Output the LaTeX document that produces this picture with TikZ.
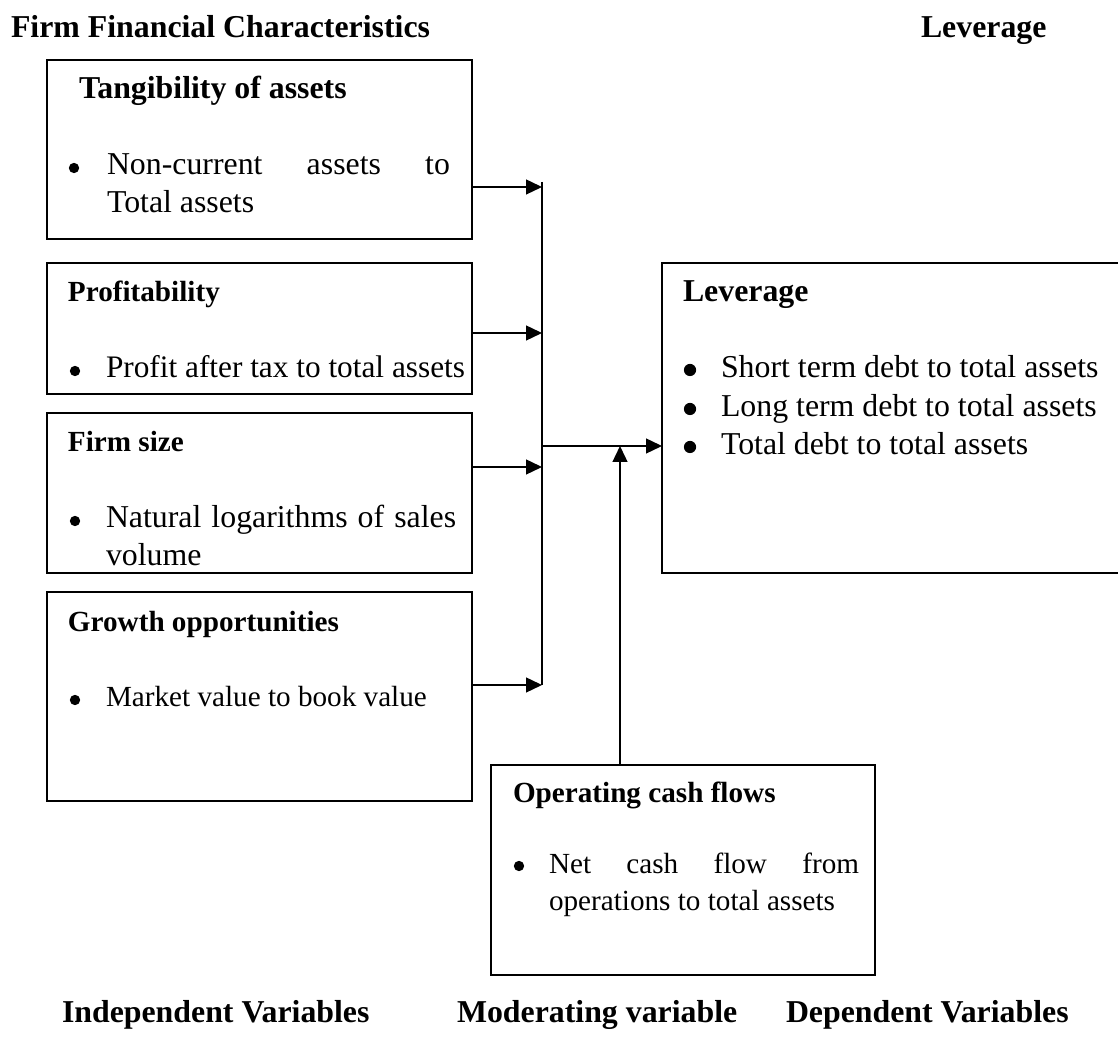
\documentclass[tikz,border=0pt]{standalone}
\usepackage{fontspec}
\setmainfont{Liberation Serif}
\usetikzlibrary{arrows.meta}

\newcommand\bigsz{\fontsize{12}{14.3}\selectfont}
\newcommand\midsz{\fontsize{11}{14.3}\selectfont}

\begin{document}
\begin{tikzpicture}[x=0.377pt, y=-0.377pt,
  every node/.style = {inner sep=0pt, outer sep=0pt},
  varbox/.style = {draw, line width=0.6pt, anchor=north west},
  head/.style = {anchor=base west, font=\bfseries\midsz},
  bighead/.style = {anchor=base west, font=\bfseries\bigsz},
  dot/.style = {circle, fill, minimum size=3.9pt},
  bigdot/.style = {circle, fill, minimum size=4.6pt},
  itemtxt/.style = {anchor=base west, font=\midsz},
  link/.style = {line width=0.6pt, -{Triangle[length=6pt,width=5.6pt]}}]
  \useasboundingbox (0,0) rectangle (1118,1040);

  % column titles
  \node[bighead] (fintitle) at (11,38) {Firm Financial Characteristics};
  \node[bighead] (levtitle) at (921,38) {Leverage};

  % independent variables
  \node[varbox, minimum width=160.2pt, minimum height=67.5pt] (tang) at (47,60) {};
  \node[bighead] (tangh) at (79,99) {Tangibility of assets};
  \node[dot] (tangd) at (74,168) {};
  \node[itemtxt, font=\bigsz, text width=129.3pt, align=justify] (tangt) at (107,175)
    {Non-current assets to\linebreak Total assets};

  \node[varbox, minimum width=160.2pt, minimum height=49.4pt] (prof) at (47,263) {};
  \node[head] (profh) at (68,302) {Profitability};
  \node[dot] (profd) at (75,371) {};
  \node[itemtxt, font=\fontsize{11.8}{14.3}\selectfont] (proft) at (106,378)
    {Profit after tax to total assets};

  \node[varbox, minimum width=160.2pt, minimum height=60.3pt] (size) at (47,413) {};
  \node[head] (sizeh) at (68,452) {Firm size};
  \node[dot] (sized) at (75,521) {};
  \node[itemtxt, font=\bigsz, text width=132pt, align=justify] (sizet) at (106,528)
    {Natural logarithms of sales volume};

  \node[varbox, minimum width=160.2pt, minimum height=78.7pt] (grow) at (47,592) {};
  \node[head] (growh) at (68,632) {Growth opportunities};
  \node[dot] (growd) at (75,700) {};
  \node[itemtxt] (growt) at (106,707) {Market value to book value};

  % dependent variable (right side runs off the page)
  \node[varbox, minimum width=174.5pt, minimum height=116.9pt] (lev) at (662,263) {};
  \node[bighead] (levh) at (683,302) {Leverage};
  \node[bigdot] (levd1) at (690,370) {};
  \node[itemtxt, font=\bigsz] (levt1) at (721,378) {Short term debt to total assets};
  \node[bigdot] (levd2) at (690,409) {};
  \node[itemtxt, font=\bigsz] (levt2) at (721,417) {Long term debt to total assets};
  \node[bigdot] (levd3) at (690,447) {};
  \node[itemtxt, font=\bigsz] (levt3) at (721,455) {Total debt to total assets};

  % moderating variable
  \node[varbox, minimum width=144.8pt, minimum height=79.2pt] (op) at (491,765) {};
  \node[head] (oph) at (513,803) {Operating cash flows};
  \node[dot] (opd) at (519,866) {};
  \node[itemtxt, text width=116.9pt, align=justify] (opt) at (549,873)
    {Net cash flow from\linebreak operations to total assets};

  % bottom labels
  \node[bighead] (indlab) at (62,1022) {Independent Variables};
  \node[bighead] (modlab) at (457,1022) {Moderating variable};
  \node[bighead] (deplab) at (786,1022) {Dependent Variables};

  % connectors
  \coordinate (bustop) at (542,182);
  \coordinate (busbot) at (542,685);
  \coordinate (j1) at (542,187);
  \coordinate (j2) at (542,333);
  \coordinate (j3) at (542,467);
  \coordinate (join) at (542,446);
  \coordinate (meet) at (620,446);
  \draw[line width=0.6pt] (bustop) -- (busbot);
  \draw[link] (tang.east |- j1) -- (j1);
  \draw[link] (prof.east |- j2) -- (j2);
  \draw[link] (size.east |- j3) -- (j3);
  \draw[link] (grow.east |- busbot) -- (busbot);
  \draw[link] (join) -- (lev.west |- join);
  \draw[link] (op.north -| meet) -- (meet);
\end{tikzpicture}
\end{document}
